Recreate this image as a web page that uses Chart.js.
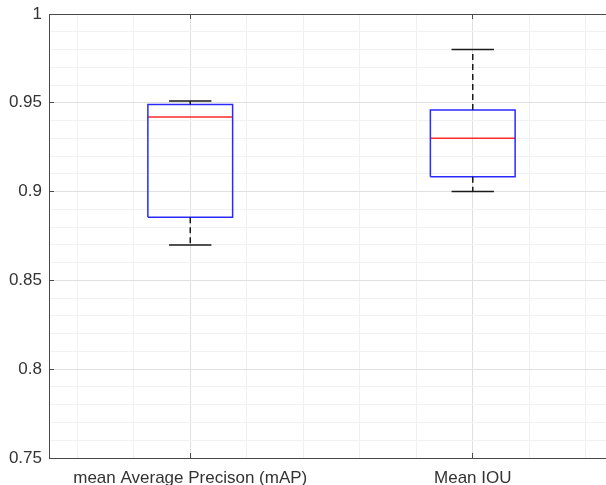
<!DOCTYPE html>
<html>
<head>
<meta charset="utf-8">
<script src="https://cdn.jsdelivr.net/npm/chart.js@4/dist/chart.umd.min.js"></script>
<style>
	html, body { margin: 0; padding: 0; background: #fff; overflow: hidden; }
	#wrap { width: 620px; height: 485px; }
</style>
</head>
<body>
<div id="wrap"><canvas id="chartBoxplot" width="620" height="485"></canvas></div>
<script>
var categorias = ['mean Average Precison (mAP)', 'Mean IOU'];
var bigodeInferior = [0.870, 0.900];
var quartil1 = [0.8855, 0.9083];
var mediana = [0.942, 0.930];
var quartil3 = [0.949, 0.946];
var bigodeSuperior = [0.951, 0.980];
var rotulosY = ['0.75', '0.8', '0.85', '0.9', '0.95', '1'];

var MEIA_CAIXA = 0.15;
var MEIA_TAMPA = 0.075;
var FONTE = 'Liberation Sans, Arial, Helvetica, sans-serif';

function quebra(p) { return { x: p, y: null }; }

var caixas = [], medianas = [], bigodes = [], tampas = [];
categorias.forEach(function(nome, i) {
	var p = i + 1;
	caixas.push({ x: p - MEIA_CAIXA, y: quartil1[i] }, { x: p - MEIA_CAIXA, y: quartil3[i] },
		{ x: p + MEIA_CAIXA, y: quartil3[i] }, { x: p + MEIA_CAIXA, y: quartil1[i] },
		{ x: p - MEIA_CAIXA, y: quartil1[i] }, quebra(p));
	medianas.push({ x: p - MEIA_CAIXA, y: mediana[i] }, { x: p + MEIA_CAIXA, y: mediana[i] }, quebra(p));
	bigodes.push({ x: p, y: quartil3[i] }, { x: p, y: bigodeSuperior[i] }, quebra(p),
		{ x: p, y: quartil1[i] }, { x: p, y: bigodeInferior[i] }, quebra(p));
	tampas.push({ x: p - MEIA_TAMPA, y: bigodeSuperior[i] }, { x: p + MEIA_TAMPA, y: bigodeSuperior[i] }, quebra(p),
		{ x: p - MEIA_TAMPA, y: bigodeInferior[i] }, { x: p + MEIA_TAMPA, y: bigodeInferior[i] }, quebra(p));
});

function serie(dados, cor, tracejado) {
	return {
		data: dados,
		borderColor: cor,
		borderWidth: 1.5,
		borderDash: tracejado || [],
		pointRadius: 0,
		fill: false,
		tension: 0,
		spanGaps: false
	};
}

function ehInteiro(v, passo) {
	return Math.abs(v / passo - Math.round(v / passo)) < 1e-6;
}

function ticksX(scale) {
	var t = [];
	for (var k = 3; k <= 12; k++) t.push({ value: k * 0.2 });
	scale.ticks = t;
}

function ticksY(scale) {
	var t = [];
	for (var k = 75; k <= 100; k++) t.push({ value: k / 100 });
	scale.ticks = t;
}

// tamanho fixo dos eixos, sem a folga que o Chart.js reserva para os rotulos
function fixaAltura(h) {
	return function(axis) { axis.height = h; axis.paddingLeft = 0; axis.paddingRight = 0; };
}

var corEixo = '#4a4a4a';

var grafico = new Chart(document.getElementById('chartBoxplot'), {
	type: 'line',
	data: {
		datasets: [
			serie(bigodes, '#1a1a1a', [6, 4]),
			serie(tampas, '#1a1a1a'),
			serie(caixas, '#2a2aff'),
			serie(medianas, '#ff2a2a')
		]
	},
	options: {
		responsive: false,
		animation: false,
		layout: { padding: { left: 0, top: 0, right: 6, bottom: 0 } },
		plugins: { legend: { display: false }, tooltip: { enabled: false } },
		scales: {
			x: {
				type: 'linear',
				position: 'bottom',
				min: 0.5,
				max: 2.5,
				afterBuildTicks: ticksX,
				afterFit: fixaAltura(27),
				border: { color: corEixo, width: 1 },
				grid: {
					color: function(ctx) { return ehInteiro(ctx.tick.value, 1) ? '#e0e0e0' : '#f1f1f1'; },
					tickColor: function(ctx) { return ehInteiro(ctx.tick.value, 1) ? corEixo : 'rgba(0,0,0,0)'; },
					tickLength: -5
				},
				ticks: {
					autoSkip: false,
					maxRotation: 0,
					padding: 15,
					color: '#333',
					font: { family: FONTE, size: 17 },
					callback: function(v) {
						return ehInteiro(v, 1) ? categorias[Math.round(v) - 1] : '';
					}
				}
			},
			x2: {
				type: 'linear',
				position: 'top',
				min: 0.5,
				max: 2.5,
				afterBuildTicks: ticksX,
				afterFit: fixaAltura(14),
				border: { color: corEixo, width: 1 },
				grid: {
					drawOnChartArea: false,
					tickColor: function(ctx) { return ehInteiro(ctx.tick.value, 1) ? corEixo : 'rgba(0,0,0,0)'; },
					tickLength: -5
				},
				ticks: { display: false }
			},
			y: {
				min: 0.75,
				max: 1,
				afterBuildTicks: ticksY,
				afterFit: function(axis) { axis.width = 49; axis.paddingTop = 0; axis.paddingBottom = 0; },
				border: { color: corEixo, width: 1 },
				grid: {
					color: function(ctx) { return ehInteiro(ctx.tick.value, 0.05) ? '#e0e0e0' : '#f1f1f1'; },
					tickColor: function(ctx) { return ehInteiro(ctx.tick.value, 0.05) ? corEixo : 'rgba(0,0,0,0)'; },
					tickLength: -5
				},
				ticks: {
					autoSkip: false,
					padding: 12,
					color: '#333',
					font: { family: FONTE, size: 17 },
					callback: function(v) {
						if (!ehInteiro(v, 0.05)) return '';
						return rotulosY[Math.round((v - 0.75) / 0.05)];
					}
				}
			}
		}
	}
});
</script>
</body>
</html>
